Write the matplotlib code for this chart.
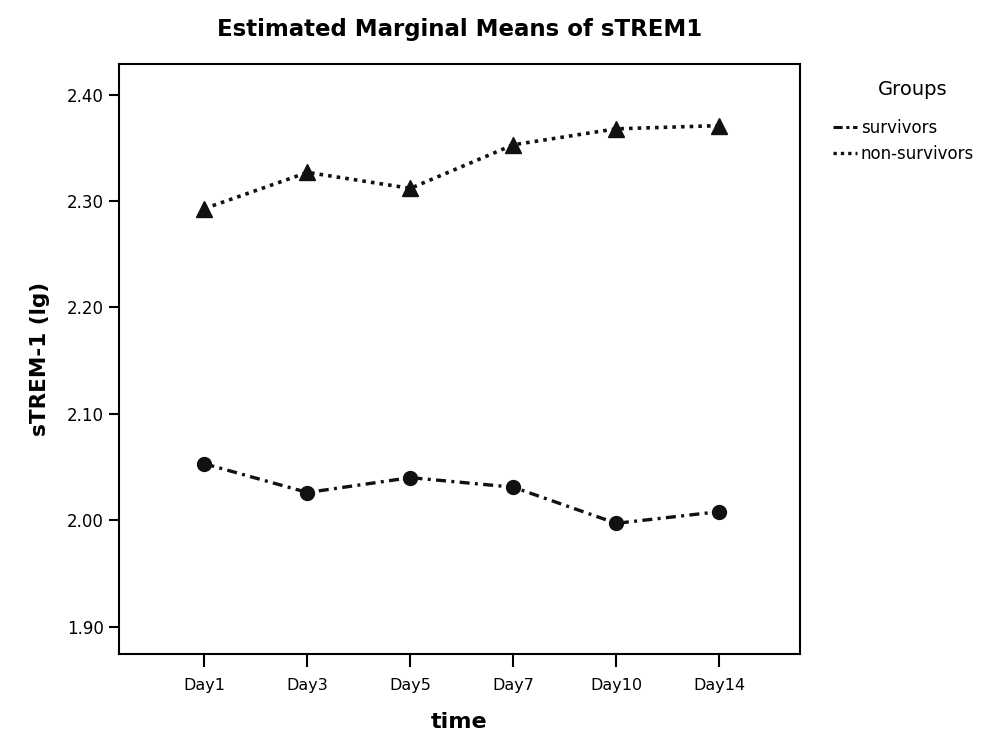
import numpy as np
import matplotlib.pyplot as plt
from matplotlib.lines import Line2D

plt.rcParams['font.family'] = ['DejaVu Sans']

days = ["Day1", "Day3", "Day5", "Day7", "Day10", "Day14"]
survivors = [2.053, 2.026, 2.040, 2.031, 1.997, 2.008]
non_survivors = [2.293, 2.327, 2.312, 2.353, 2.368, 2.371]
yticks = [1.90, 2.00, 2.10, 2.20, 2.30, 2.40]

ink = '#111111'
fig = plt.figure(figsize=(9.92, 7.35), dpi=100)
ax = fig.add_axes([0.12, 0.110, 0.686, 0.803])

x = np.arange(len(days))
ax.plot(x, survivors, color=ink, linestyle=(0, (3, 1.6, 0.9, 1.6)), lw=2.4,
        marker='o', markersize=10)
ax.plot(x, non_survivors, color=ink, linestyle=(0, (1, 1.4)), lw=2.6,
        marker='^', markersize=11)

ax.set_xlim(-0.83, 5.78)
ax.set_ylim(1.874, 2.429)
ax.set_xticks(x)
ax.set_xticklabels(days, fontsize=11.5)
ax.set_yticks(yticks)
ax.set_yticklabels([f"{v:.2f}" for v in yticks], fontsize=12)
ax.tick_params(axis='x', length=9, width=1.5, pad=8)
ax.tick_params(axis='y', length=7, width=1.5, pad=4)
for s in ax.spines.values():
    s.set_linewidth(1.5)

ax.set_title("Estimated Marginal Means of sTREM1", fontsize=16.5, fontweight='bold', pad=20)
ax.set_xlabel("time", fontsize=16, fontweight='bold', labelpad=14)
ax.set_ylabel("sTREM-1 (lg)", fontsize=15.5, fontweight='bold', labelpad=12)

# legend heading sits apart from the entries, centred above them
fig.text(0.920, 0.878, "Groups", fontsize=14, ha='center', va='center')
handles = [
    Line2D([0], [0], color=ink, linestyle=(0, (3, 1.2, 1, 1.2)), lw=2.2),
    Line2D([0], [0], color=ink, linestyle=(0, (1, 1.2)), lw=2.4),
]
fig.legend(handles, ["survivors", "non-survivors"],
           loc='upper left', bbox_to_anchor=(0.840, 0.838), frameon=False,
           fontsize=12, handlelength=1.45, handletextpad=0.2,
           labelspacing=0.45, borderpad=0, borderaxespad=0)

fig.savefig("out.png", dpi=100)
